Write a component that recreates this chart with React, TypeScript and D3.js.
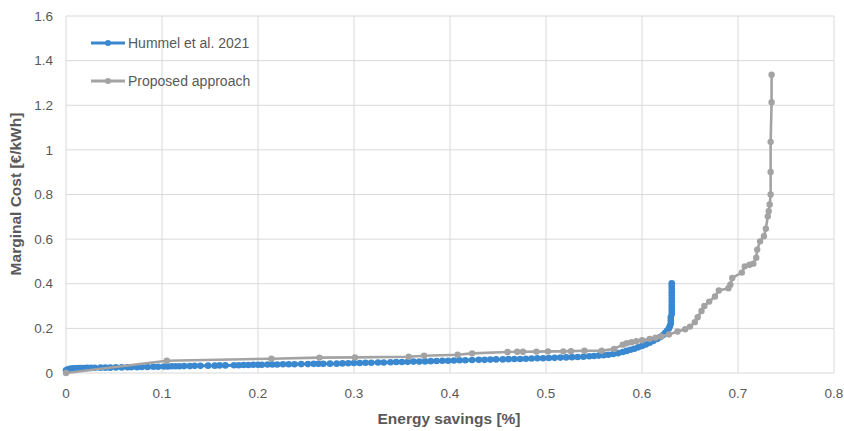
import React, { useEffect } from "react";
import * as d3 from "d3";

const xTicks = [0, 0.1, 0.2, 0.3, 0.4, 0.5, 0.6, 0.7, 0.8];
const yTicks = [0, 0.2, 0.4, 0.6, 0.8, 1, 1.2, 1.4, 1.6];
const seriesNames = ["Hummel et al. 2021", "Proposed approach"];

const hummelSavings = [
  0.000, 0.002, 0.004, 0.006, 0.008, 0.010, 0.013, 0.016, 0.019, 0.022, 0.026, 0.030, 0.036, 0.041, 0.046,
  0.052, 0.058, 0.064, 0.068, 0.074, 0.079, 0.085, 0.091, 0.096, 0.102, 0.106, 0.110, 0.114, 0.118, 0.123,
  0.129, 0.134, 0.140, 0.148, 0.155, 0.160, 0.166, 0.175, 0.180, 0.185, 0.190, 0.195, 0.200, 0.204, 0.210,
  0.215, 0.220, 0.226, 0.232, 0.238, 0.245, 0.252, 0.258, 0.263, 0.268, 0.275, 0.282, 0.288, 0.294, 0.300,
  0.306, 0.312, 0.318, 0.325, 0.331, 0.338, 0.344, 0.350, 0.356, 0.362, 0.368, 0.374, 0.380, 0.386, 0.392,
  0.398, 0.404, 0.410, 0.416, 0.423, 0.430, 0.436, 0.442, 0.448, 0.455, 0.461, 0.467, 0.473, 0.479, 0.485,
  0.491, 0.497, 0.503, 0.509, 0.515, 0.521, 0.527, 0.533, 0.539, 0.545, 0.550, 0.555, 0.560, 0.565, 0.570,
  0.575, 0.580, 0.584, 0.588, 0.592, 0.596, 0.600, 0.604, 0.608, 0.612, 0.616, 0.619, 0.622, 0.624, 0.626,
  0.628, 0.629, 0.630, 0.630, 0.630, 0.631, 0.631, 0.631, 0.631, 0.631, 0.631, 0.631, 0.631, 0.631, 0.631,
  0.631,
];
const hummelCost = [
  0.012, 0.017, 0.019, 0.020, 0.021, 0.021, 0.022, 0.022, 0.022, 0.023, 0.023, 0.023, 0.024, 0.024, 0.024,
  0.025, 0.025, 0.026, 0.026, 0.026, 0.027, 0.027, 0.028, 0.028, 0.029, 0.029, 0.030, 0.030, 0.030, 0.031,
  0.031, 0.032, 0.032, 0.033, 0.033, 0.034, 0.034, 0.035, 0.035, 0.036, 0.036, 0.037, 0.037, 0.037, 0.038,
  0.038, 0.038, 0.039, 0.039, 0.039, 0.040, 0.040, 0.041, 0.041, 0.041, 0.042, 0.042, 0.043, 0.044, 0.045,
  0.045, 0.046, 0.046, 0.047, 0.047, 0.048, 0.049, 0.049, 0.050, 0.051, 0.051, 0.052, 0.053, 0.054, 0.055,
  0.055, 0.056, 0.057, 0.057, 0.058, 0.059, 0.059, 0.060, 0.061, 0.061, 0.062, 0.063, 0.063, 0.064, 0.065,
  0.066, 0.066, 0.067, 0.068, 0.069, 0.070, 0.071, 0.072, 0.073, 0.075, 0.076, 0.078, 0.080, 0.082, 0.085,
  0.089, 0.094, 0.099, 0.104, 0.109, 0.115, 0.121, 0.128, 0.136, 0.144, 0.153, 0.161, 0.170, 0.179, 0.189,
  0.199, 0.210, 0.222, 0.236, 0.250, 0.264, 0.278, 0.292, 0.306, 0.320, 0.334, 0.348, 0.362, 0.376, 0.390,
  0.402,
];

const proposedSavings = [
  0.000, 0.105, 0.214, 0.264, 0.301, 0.357, 0.373, 0.408, 0.423, 0.460, 0.470, 0.476, 0.490, 0.502, 0.518,
  0.526, 0.540, 0.558, 0.571, 0.580, 0.584, 0.589, 0.594, 0.600, 0.608, 0.614, 0.620, 0.628, 0.637, 0.645,
  0.650, 0.655, 0.658, 0.662, 0.665, 0.670, 0.676, 0.680, 0.690, 0.692, 0.694, 0.704, 0.707, 0.712, 0.716,
  0.719, 0.720, 0.723, 0.727, 0.729, 0.731, 0.732, 0.733, 0.734, 0.734, 0.734, 0.735, 0.735,
];
const proposedCost = [
  0.000, 0.055, 0.064, 0.069, 0.070, 0.073, 0.077, 0.082, 0.088, 0.094, 0.095, 0.095, 0.096, 0.097, 0.097,
  0.098, 0.100, 0.100, 0.108, 0.127, 0.133, 0.138, 0.142, 0.147, 0.153, 0.158, 0.164, 0.173, 0.186, 0.196,
  0.208, 0.228, 0.250, 0.278, 0.300, 0.320, 0.343, 0.370, 0.380, 0.396, 0.426, 0.450, 0.478, 0.485, 0.490,
  0.517, 0.553, 0.590, 0.613, 0.647, 0.702, 0.725, 0.755, 0.800, 0.901, 1.036, 1.214, 1.337,
];

const W = 844;
const H = 431;
const M = { left: 66, right: 834, top: 16, bottom: 373 };
const BLUE = "#3a88cf";
const GRAY = "#a3a3a3";
const TEXT = "#595959";
const GRID = "#d9d9d9";
const FONT = "'Liberation Sans', Arial, sans-serif";

export default function App() {
  useEffect(() => {
    document.body.style.margin = "0";
  }, []);

  const x = d3.scaleLinear().domain([0, 0.8]).range([M.left, M.right]);
  const y = d3.scaleLinear().domain([0, 1.6]).range([M.bottom, M.top]);

  const hummel = hummelSavings.map((s, i) => [s, hummelCost[i]] as [number, number]);
  const proposed = proposedSavings.map((s, i) => [s, proposedCost[i]] as [number, number]);
  const line = d3
    .line<[number, number]>()
    .x((d) => x(d[0]))
    .y((d) => y(d[1]));

  const fmt = (v: number) => (v === 0 ? "0" : String(v));

  return (
    <div style={{ position: "absolute", left: 0, top: 0 }}>
      <svg width={W} height={H} style={{ display: "block", background: "#fff" }} fontFamily={FONT}>
        {xTicks.map((t) => (
          <line key={"gx" + t} x1={x(t)} x2={x(t)} y1={M.top} y2={M.bottom} stroke={GRID} strokeWidth={1} />
        ))}
        {yTicks.map((t) => (
          <line key={"gy" + t} x1={M.left} x2={M.right} y1={y(t)} y2={y(t)} stroke={GRID} strokeWidth={1} />
        ))}
        {yTicks.map((t) => (
          <text key={"ty" + t} x={53} y={y(t)} dy="0.35em" textAnchor="end" fontSize={13.5} fill={TEXT}>
            {fmt(t)}
          </text>
        ))}
        {xTicks.map((t) => (
          <text key={"tx" + t} x={x(t)} y={393} dy="0.35em" textAnchor="middle" fontSize={13.5} fill={TEXT}>
            {fmt(t)}
          </text>
        ))}
        <text x={449} y={424} textAnchor="middle" fontSize={15.5} fontWeight="bold" fill={TEXT}>
          Energy savings [%]
        </text>
        <text
          transform={`translate(21,194) rotate(-90)`}
          textAnchor="middle"
          fontSize={15.5}
          fontWeight="bold"
          fill={TEXT}
        >
          Marginal Cost [€/kWh]
        </text>

        <path d={line(hummel) || ""} fill="none" stroke={BLUE} strokeWidth={3} strokeLinejoin="round" />
        {hummel.map((d, i) => (
          <circle key={"h" + i} cx={x(d[0])} cy={y(d[1])} r={3.3} fill={BLUE} />
        ))}
        <path d={line(proposed) || ""} fill="none" stroke={GRAY} strokeWidth={2.6} strokeLinejoin="round" />
        {proposed.map((d, i) => (
          <circle key={"p" + i} cx={x(d[0])} cy={y(d[1])} r={3.2} fill={GRAY} />
        ))}

        {seriesNames.map((n, i) => {
          const ly = 43 + i * 38;
          const c = i === 0 ? BLUE : GRAY;
          return (
            <g key={n}>
              <line x1={91} x2={125} y1={ly} y2={ly} stroke={c} strokeWidth={2.8} />
              <circle cx={108} cy={ly} r={3} fill={c} />
              <text x={128} y={ly} dy="0.35em" fontSize={14} fill={TEXT}>
                {n}
              </text>
            </g>
          );
        })}
      </svg>
    </div>
  );
}
